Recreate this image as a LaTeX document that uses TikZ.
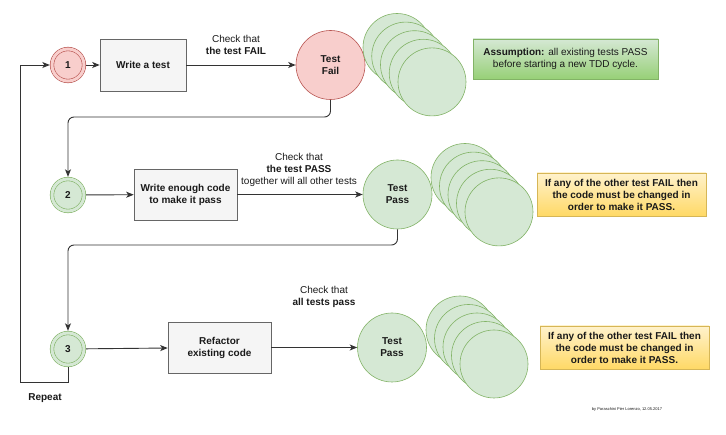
\documentclass[tikz,border=0pt]{standalone}
\usepackage{fontspec}
\setmainfont{Liberation Sans}
\usetikzlibrary{arrows.meta}
\definecolor{redfill}{HTML}{F8CECC}
\definecolor{redline}{HTML}{B85450}
\definecolor{grfill}{HTML}{D5E8D4}
\definecolor{grline}{HTML}{82B366}
\definecolor{grgrad}{HTML}{97D077}
\definecolor{ylfill}{HTML}{FFF2CC}
\definecolor{ylgrad}{HTML}{FFD966}
\definecolor{ylline}{HTML}{D6B656}
\definecolor{boxfill}{HTML}{F5F5F5}
\definecolor{boxline}{HTML}{666666}
\definecolor{ink}{HTML}{333333}
\definecolor{txt}{HTML}{1A1A1A}
\tikzset{
  dcirc/.style={circle, minimum size=32pt, inner sep=0pt, draw=#1line, double=#1fill, double distance=3pt, line width=0.6pt, fill=#1fill, font=\bfseries, outer sep=2.2pt, text=txt},
  stepbox/.style={rectangle, draw=boxline, fill=boxfill, line width=0.6pt, align=center, font=\bfseries, text=txt},
  bigc/.style={circle, minimum size=69pt, inner sep=0pt, draw=#1line, fill=#1fill, line width=0.6pt, align=center, font=\bfseries, text=txt},
  stackc/.style={circle, minimum size=68pt, inner sep=0pt, draw=grline, fill=grfill, line width=0.6pt},
  notebox/.style={rectangle, draw=#1line, top color=#1fill, bottom color=#1grad, line width=0.5pt, align=center, text=txt, minimum height=42pt},
  lbl/.style={align=center, text=txt, inner sep=0pt},
  conn/.style={draw=ink, line width=0.9pt, -{Stealth[length=7.5pt,width=6pt,inset=2pt]}},
  rconn/.style={conn, rounded corners=6pt},
}
\begin{document}
\begin{tikzpicture}[x=1pt, y=-1pt, font=\fontsize{10}{12}\selectfont]
\useasboundingbox[fill=white] (0,0) rectangle (726,435);

% Row 1
\node[dcirc=red] (c1) at (68,65) {1};
\node[stepbox, minimum width=86pt, minimum height=52pt] (b1) at (143,65) {Write a test};
\node[bigc=red] (tf) at (330.5,65) {Test\\Fail};
\foreach \i in {0,...,4} {
  \node[stackc] (s1\i) at (397+8.75*\i, 47.5+8.6*\i) {};
}
\node[notebox=gr, minimum width=185pt, minimum height=40pt] (n1) at (565.5,59) {\textbf{Assumption:} all existing tests PASS\\before starting a new TDD cycle.};
\node[lbl] (l1) at (236,44.5) {Check that\\\textbf{the test FAIL}};

% Row 2
\node[dcirc=gr] (c2) at (68,195) {2};
\node[stepbox, minimum width=103pt, minimum height=51pt] (b2) at (185.5,194.5) {Write enough code\\to make it pass};
\node[bigc=gr] (tp2) at (397.5,194.5) {Test\\Pass};
\foreach \i in {0,...,4} {
  \node[stackc] (s2\i) at (465+8.5*\i, 177.5+8.6*\i) {};
}
\node[notebox=yl, minimum width=169pt, minimum height=43pt, font=\bfseries] (n2) at (621.5,194.5) {If any of the other test FAIL then\\the code must be changed in\\order to make it PASS.};
\node[lbl] (l2) at (299,170) {Check that\\\textbf{the test PASS}\\together will all other tests};

% Row 3
\node[dcirc=gr] (c3) at (68,349) {3};
\node[stepbox, minimum width=103pt, minimum height=51pt] (b3) at (219.5,347.5) {Refactor\\existing code};
\node[bigc=gr] (tp3) at (392,347.5) {Test\\Pass};
\foreach \i in {0,...,4} {
  \node[stackc] (s3\i) at (460+8.5*\i, 330+8.5*\i) {};
}
\node[notebox=yl, minimum width=169pt, minimum height=43pt, font=\bfseries] (n3) at (624.5,347.5) {If any of the other test FAIL then\\the code must be changed in\\order to make it PASS.};
\node[lbl] (l3) at (324,297) {Check that\\\textbf{all tests pass}};

\node[lbl, font=\bfseries] (rep) at (45,398) {Repeat};
\node[lbl, font=\fontsize{4}{5}\selectfont] (foot) at (627,409) {by Paraschini Pier Lorenzo, 12.05.2017};

% Connectors
\draw[conn] (c1) -- (b1);
\draw[conn] (b1) -- (tf);
\draw[rconn] (tf.south) -- (tf.south |- 0,117) -| (c2.north);
\draw[conn] (c2) -- (b2);
\draw[conn] (b2) -- (tp2);
\draw[rconn] (tp2.south) -- (tp2.south |- 0,245) -| (c3.north);
\draw[conn] (c3) -- (b3);
\draw[conn] (b3) -- (tp3);
\coordinate (rp) at (20,382);
\draw[conn] (c3.south) |- (rp) |- (c1.west);
\end{tikzpicture}
\end{document}
